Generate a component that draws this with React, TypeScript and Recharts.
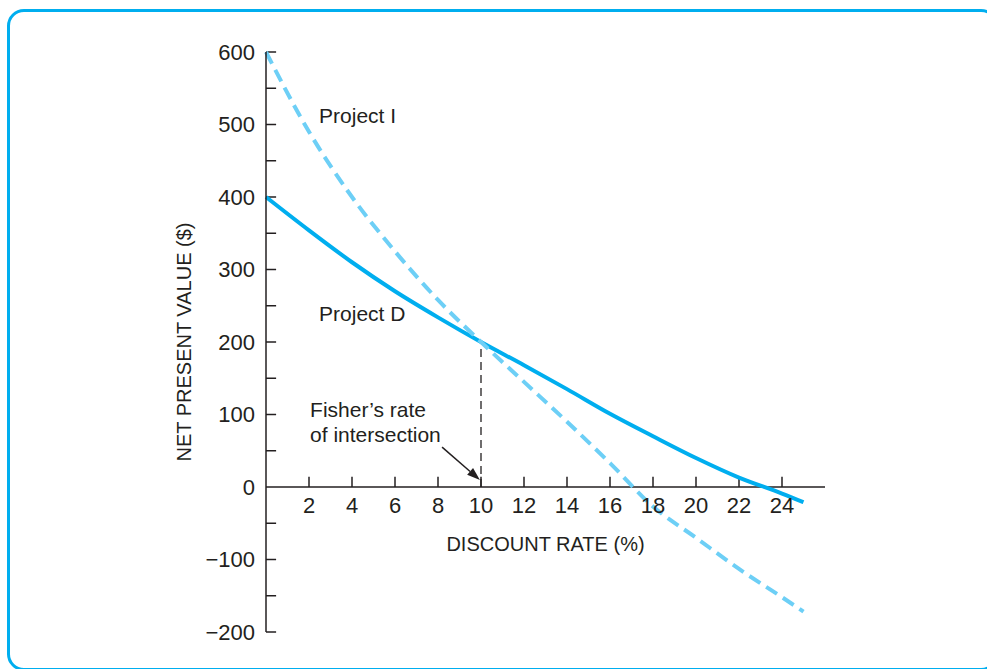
import { LineChart, Line, XAxis, YAxis, ReferenceLine, ReferenceDot } from 'recharts';

const rates = [0, 2, 4, 6, 8, 10, 12, 14, 16, 18, 20, 22, 24, 25];
const projectD = [400, 354, 310, 270, 234, 200, 168, 135, 101, 70, 40, 13, -9, -21];
const projectI = [600, 490, 400, 325, 258, 200, 145, 90, 33, -27, -70, -113, -152, -172];

const xTicks = [2, 4, 6, 8, 10, 12, 14, 16, 18, 20, 22, 24];
const yTicks = [-200, -100, 0, 100, 200, 300, 400, 500, 600];
const yMinorTicks = [-200, -150, -100, -50, 50, 100, 150, 200, 250, 300, 350, 400, 450, 500, 550, 600];

const data = rates.map((r, i) => ({ rate: r, d: projectD[i], inv: projectI[i] }));

const INK = '#231f20';
const FONT = '"Liberation Sans", Arial, sans-serif';

const formatY = (v: number) => (v < 0 ? `\u2212${Math.abs(v)}` : `${v}`);

function TextAt(props: any) {
  const { viewBox, lines, anchor, size } = props;
  const x = viewBox.x + (viewBox.width || 0) / 2;
  const y = viewBox.y + (viewBox.height || 0) / 2;
  return (
    <text x={x} y={y} fill={INK} fontSize={size || 21} fontFamily={FONT} textAnchor={anchor || 'start'} dominantBaseline="central">
      {lines.map((l: string, k: number) => (
        <tspan key={k} x={x} dy={k === 0 ? 0 : 25}>{l}</tspan>
      ))}
    </text>
  );
}

function Arrow(props: any) {
  const { x1, y1, x2, y2 } = props;
  const a = Math.atan2(y2 - y1, x2 - x1);
  const len = 13;
  const w = 4.5;
  const bx = x2 - len * Math.cos(a);
  const by = y2 - len * Math.sin(a);
  const px = -Math.sin(a) * w;
  const py = Math.cos(a) * w;
  return (
    <g>
      <line x1={x1} y1={y1} x2={bx} y2={by} stroke={INK} strokeWidth={1.5} />
      <polygon points={`${x2},${y2} ${bx + px},${by + py} ${bx - px},${by - py}`} fill={INK} />
    </g>
  );
}

export default function App() {
  return (
    <div style={{ position: 'absolute', left: 0, top: 0, width: 987, height: 669, overflow: 'hidden', background: '#fff' }}>
      <div
        style={{
          position: 'absolute',
          left: 7,
          top: 9,
          width: 991,
          height: 662,
          border: '3px solid #00aeef',
          borderRadius: 17,
          boxSizing: 'border-box',
        }}
      />
      <div style={{ position: 'absolute', left: 0, top: 0 }}>
        <LineChart width={987} height={669} data={data} margin={{ top: 52, right: 162, bottom: 37, left: 0 }}>
          <XAxis dataKey="rate" type="number" domain={[0, 26]} hide />
          <YAxis
            type="number"
            domain={[-200, 600]}
            ticks={yTicks}
            width={266}
            tickLine={false}
            tickSize={0}
            tickMargin={11}
            tickFormatter={formatY}
            axisLine={{ stroke: INK, strokeWidth: 1.5 }}
            tick={{ fill: INK, fontSize: 22, fontFamily: FONT }}
            label={{
              value: 'NET PRESENT VALUE ($)',
              angle: -90,
              position: 'insideLeft',
              offset: 184,
              style: { textAnchor: 'middle', fill: INK, fontSize: 20, fontFamily: FONT },
            }}
          />
          <ReferenceLine y={0} stroke={INK} strokeWidth={1.5} />
          {yMinorTicks.map((v) => (
            <ReferenceLine
              key={`yt${v}`}
              segment={[{ x: 0, y: v }, { x: 0.47, y: v }]}
              stroke={INK}
              strokeWidth={1.5}
            />
          ))}
          {xTicks.map((t) => (
            <ReferenceLine
              key={`xt${t}`}
              segment={[{ x: t, y: 0 }, { x: t, y: 14 }]}
              stroke={INK}
              strokeWidth={1.5}
            />
          ))}
          {xTicks.map((t) => (
            <ReferenceDot
              key={`xl${t}`}
              x={t}
              y={-25}
              r={0}
              label={<TextAt lines={[String(t)]} anchor="middle" size={22} />}
            />
          ))}
          <ReferenceDot x={13} y={-79} r={0} label={<TextAt lines={['DISCOUNT RATE (%)']} anchor="middle" size={20} />} />
          <ReferenceLine segment={[{ x: 10, y: 0 }, { x: 10, y: 198 }]} stroke={INK} strokeWidth={1.3} strokeDasharray="8 5" />
          <ReferenceLine segment={[{ x: 8.19, y: 55 }, { x: 9.95, y: 9.7 }]} shape={<Arrow />} />
          <ReferenceDot x={2.47} y={513} r={0} label={<TextAt lines={['Project I']} />} />
          <ReferenceDot x={2.47} y={240} r={0} label={<TextAt lines={['Project D']} />} />
          <ReferenceDot x={2.05} y={107} r={0} label={<TextAt lines={['Fisher\u2019s rate', 'of intersection']} />} />
          <Line
            type="monotone"
            dataKey="d"
            stroke="#00aeef"
            strokeWidth={4}
            dot={false}
            isAnimationActive={false}
          />
          <Line
            type="monotone"
            dataKey="inv"
            stroke="#6dcff6"
            strokeWidth={4}
            strokeDasharray="13 7"
            dot={false}
            isAnimationActive={false}
          />
        </LineChart>
      </div>
    </div>
  );
}
